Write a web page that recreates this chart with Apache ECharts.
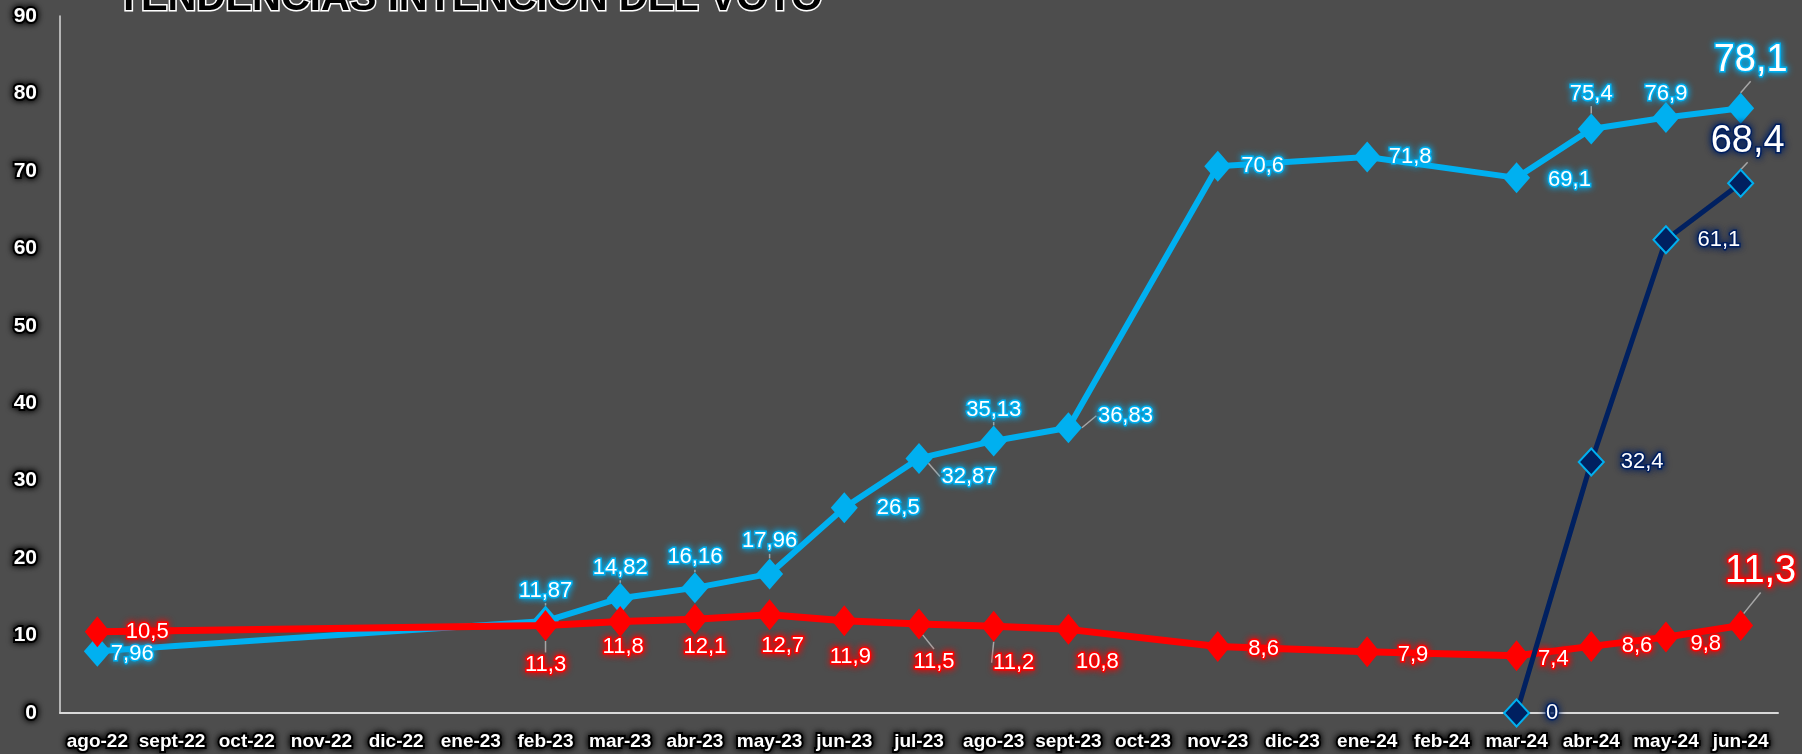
<!DOCTYPE html>
<html>
<head>
<meta charset="utf-8">
<script src="https://cdn.jsdelivr.net/npm/echarts@6/dist/echarts.min.js"></script>
<style>
  html, body { margin: 0; padding: 0; background: #4d4d4d; }
  #chart { width: 1802px; height: 754px; }
</style>
</head>
<body>
<div id="chart"></div>
<script>
// meses
const categories = ['ago-22', 'sept-22', 'oct-22', 'nov-22', 'dic-22', 'ene-23', 'feb-23', 'mar-23',
  'abr-23', 'may-23', 'jun-23', 'jul-23', 'ago-23', 'sept-23', 'oct-23', 'nov-23', 'dic-23',
  'ene-24', 'feb-24', 'mar-24', 'abr-24', 'may-24', 'jun-24'];

// serie celeste
const bluePct = [7.96, null, null, null, null, null, 11.87, 14.82, 16.16, 17.96, 26.5, 32.87,
  35.13, 36.83, null, 70.6, null, 71.8, null, 69.1, 75.4, 76.9, 78.1];
// serie roja
const redPct = [10.5, null, null, null, null, null, 11.3, 11.8, 12.1, 12.7, 11.9, 11.5,
  11.2, 10.8, null, 8.6, null, 7.9, null, 7.4, 8.6, 9.8, 11.3];
// serie azul oscuro
const navyPct = [null, null, null, null, null, null, null, null, null, null, null, null,
  null, null, null, null, null, null, null, 0, 32.4, 61.1, 68.4];

const yMin = 0, yMax = 90, yStep = 10;

// donde va cada etiqueta: [posicion, dx, dy, con linea guia]
const bluePlace = {
  0: ['right', -5, 3], 6: ['top', 0, 1, 1], 7: ['top', 0, 1, 1], 8: ['top', 0, 1, 1], 9: ['top', 0, -1, 1],
  10: ['right', 14, 0], 11: ['right', 4, 18, 1], 12: ['top', 0, 0, 1], 13: ['right', 11, -12, 1],
  15: ['right', 5, 0], 17: ['right', 3, 0], 19: ['right', 13, 2], 20: ['top', 0, -4, 1],
  21: ['top', 0, 8], 22: ['top', 10, -8, 1]
};
const redPlace = {
  0: ['right', 11, 0], 6: ['bottom', 0, 8, 1], 7: ['bottom', 3, -6], 8: ['bottom', 10, -4],
  9: ['bottom', 13, 0], 10: ['bottom', 6, 5], 11: ['bottom', 15, 6, 1], 12: ['bottom', 20, 5, 1],
  13: ['bottom', 29, 1], 15: ['right', 13, 3], 17: ['right', 13, 3], 19: ['right', 4, 3],
  20: ['right', 13, 0], 21: ['right', 7, 7], 22: ['top', 20, -14, 1]
};
const navyPlace = {
  19: ['right', 11, 0], 20: ['right', 11, 0], 21: ['right', 13, 0], 22: ['top', 7, -3, 1]
};
const places = [bluePlace, redPlace, navyPlace];

function fmt(p) {
  return String(p.value).replace('.', ',');
}

function build(values, place, bigIndex) {
  return values.map(function (v, i) {
    if (v === null) return '-';
    const p = place[i] || ['right', 0, 0];
    const item = {
      value: v,
      label: { position: p[0] },
      labelLine: { show: !!p[3] }
    };
    if (i === bigIndex) item.label.fontSize = 38;
    return item;
  });
}

// el corrimiento de cada etiqueta va por labelLayout
function moveLabel(params) {
  const p = places[params.seriesIndex][params.dataIndex];
  if (p) return { dx: p[1], dy: p[2] };
  return {};
}

function labelStyle(glow) {
  return {
    show: true,
    formatter: fmt,
    color: '#fff',
    fontFamily: 'Liberation Sans',
    fontSize: 22,
    textBorderColor: glow,
    textBorderWidth: 3,
    textShadowColor: glow,
    textShadowBlur: 7
  };
}

const guide = {
  show: false,
  length2: 0,
  lineStyle: { color: '#a6a6a6', width: 1.5 }
};

const axisText = {
  color: '#fff',
  fontFamily: 'Liberation Sans',
  fontWeight: 'bold',
  textBorderColor: '#000',
  textBorderWidth: 4,
  textShadowColor: '#000',
  textShadowBlur: 6
};

const myChart = echarts.init(document.getElementById('chart'));

const option = {
  backgroundColor: '#4d4d4d',
  animation: false,
  grid: { left: 60, right: 24, top: 16, bottom: 41, outerBoundsMode: 'none' },
  graphic: [{
    type: 'text',
    left: 115,
    top: -23,
    z: 100,
    style: {
      text: 'TENDENCIAS INTENCIÓN DEL VOTO',
      font: 'bold 40px "Liberation Sans"',
      fill: '#000',
      stroke: '#fff',
      lineWidth: 3,
      shadowColor: '#fff',
      shadowBlur: 10
    }
  }],
  xAxis: {
    type: 'category',
    data: categories,
    boundaryGap: true,
    axisLine: { lineStyle: { color: '#d9d9d9', width: 2 } },
    axisTick: { show: false },
    axisLabel: Object.assign({ fontSize: 19, margin: 19, interval: 0 }, axisText)
  },
  yAxis: {
    type: 'value',
    min: yMin,
    max: yMax,
    interval: yStep,
    splitLine: { show: false },
    axisTick: { show: false },
    axisLine: { show: true, lineStyle: { color: '#d9d9d9', width: 1.5 } },
    axisLabel: Object.assign({ fontSize: 21, margin: 23 }, axisText)
  },
  series: [
    {
      name: 'Serie 1',
      type: 'line',
      connectNulls: true,
      data: build(bluePct, bluePlace, 22),
      symbol: 'diamond',
      symbolSize: [27, 31],
      itemStyle: { color: '#00b0f0' },
      lineStyle: { color: '#00b0f0', width: 6 },
      label: labelStyle('#00b0f0'),
      labelLine: guide,
      labelLayout: moveLabel,
      z: 2
    },
    {
      name: 'Serie 2',
      type: 'line',
      connectNulls: true,
      data: build(redPct, redPlace, 22),
      symbol: 'diamond',
      symbolSize: [25, 31],
      itemStyle: { color: '#ff0000' },
      lineStyle: { color: '#ff0000', width: 7 },
      label: labelStyle('#ff0000'),
      labelLine: guide,
      labelLayout: moveLabel,
      z: 3
    },
    {
      name: 'Serie 3',
      type: 'line',
      connectNulls: true,
      data: build(navyPct, navyPlace, 22),
      symbol: 'diamond',
      symbolSize: [25, 27],
      itemStyle: { color: '#002060', borderColor: '#00b0f0', borderWidth: 2 },
      lineStyle: { color: '#002060', width: 5 },
      label: labelStyle('#002060'),
      labelLine: guide,
      labelLayout: moveLabel,
      z: 4
    }
  ]
};

option && myChart.setOption(option);
</script>
</body>
</html>
